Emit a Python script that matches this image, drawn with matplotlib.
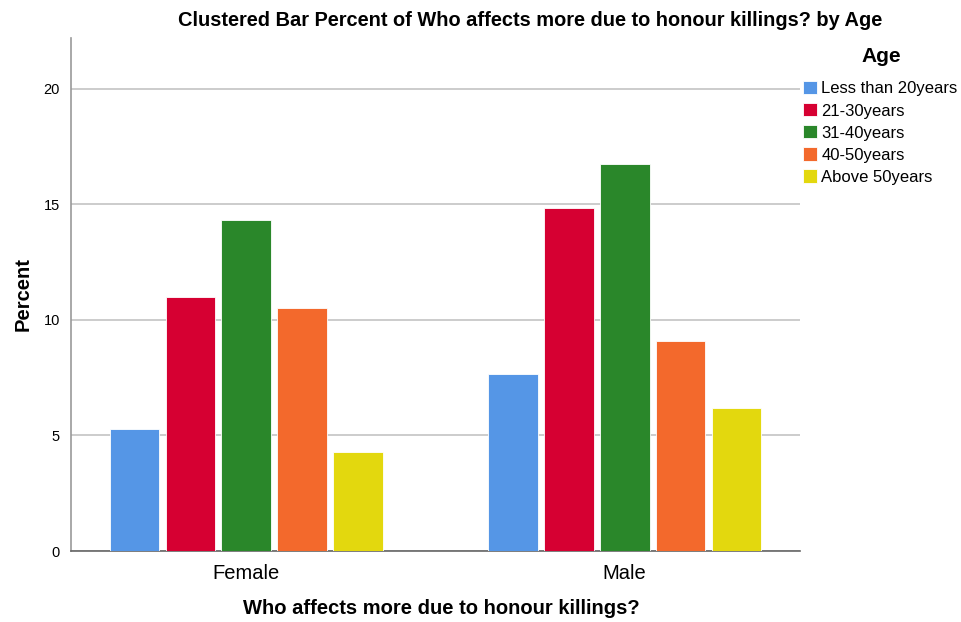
import matplotlib.pyplot as plt
import numpy as np

plt.rcParams['font.family'] = ['Liberation Sans', 'DejaVu Sans']

# data
groups = ["Female", "Male"]
age_labels = ["Less than 20years", "21-30years", "31-40years", "40-50years", "Above 50years"]
female = [5.26, 10.99, 14.34, 10.52, 4.29]
male = [7.64, 14.83, 16.73, 9.08, 6.21]
colors = ["#5596E6", "#D60032", "#2A872A", "#F3692C", "#E3D80E"]

values = np.array([female, male])  # rows = groups, cols = age bands
x = np.arange(len(groups))
pitch = 0.148
width = 0.132

fig = plt.figure(figsize=(9.62, 6.22), dpi=100)
ax = fig.add_axes([0.0738, 0.1141, 0.7578, 0.8248])

for i, lbl in enumerate(age_labels):
    offset = (i - 2) * pitch
    ax.bar(x + offset, values[:, i], width=width, color=colors[i],
           edgecolor="white", linewidth=0.6, label=lbl, zorder=3)

ax.set_xlim(-0.464, 1.464)
ax.set_ylim(0, 22.2)
ax.set_yticks([0, 5, 10, 15, 20])
ax.set_xticks(x)
ax.set_xticklabels(groups, fontsize=14.5)
ax.tick_params(axis="y", length=0, labelsize=10.5, pad=8)
ax.tick_params(axis="x", length=0, pad=9)
ax.grid(axis="y", color="#c8c8c8", linewidth=1.3, zorder=0)

for side in ["top", "right"]:
    ax.spines[side].set_visible(False)
ax.spines["left"].set_color("#999999")
ax.spines["left"].set_linewidth(1.2)
ax.spines["bottom"].set_color("#666666")
ax.spines["bottom"].set_linewidth(1.2)

ax.set_ylabel("Percent", fontsize=14.5, fontweight="bold", labelpad=8)

fig.text(441 / 962, 1 - 609 / 622, "Who affects more due to honour killings?",
         ha="center", va="center", fontsize=14.5, fontweight="bold")
fig.text(530 / 962, 1 - 20 / 622, "Clustered Bar Percent of Who affects more due to honour killings? by Age",
         ha="center", va="center", fontsize=14.4, fontweight="bold")

# legend title drawn separately so its gap to the entries matches
fig.text(881 / 962, 1 - 57 / 622, "Age", ha="center", va="center",
         fontsize=15, fontweight="bold")
ax.legend(loc="upper left", bbox_to_anchor=(803 / 962, 1 - 81 / 622),
          bbox_transform=fig.transFigure, frameon=False,
          fontsize=12, handlelength=0.85, handleheight=0.85,
          handletextpad=0.25, labelspacing=0.4, borderaxespad=0, borderpad=0)

fig.savefig("out.png", dpi=100)
plt.close(fig)
